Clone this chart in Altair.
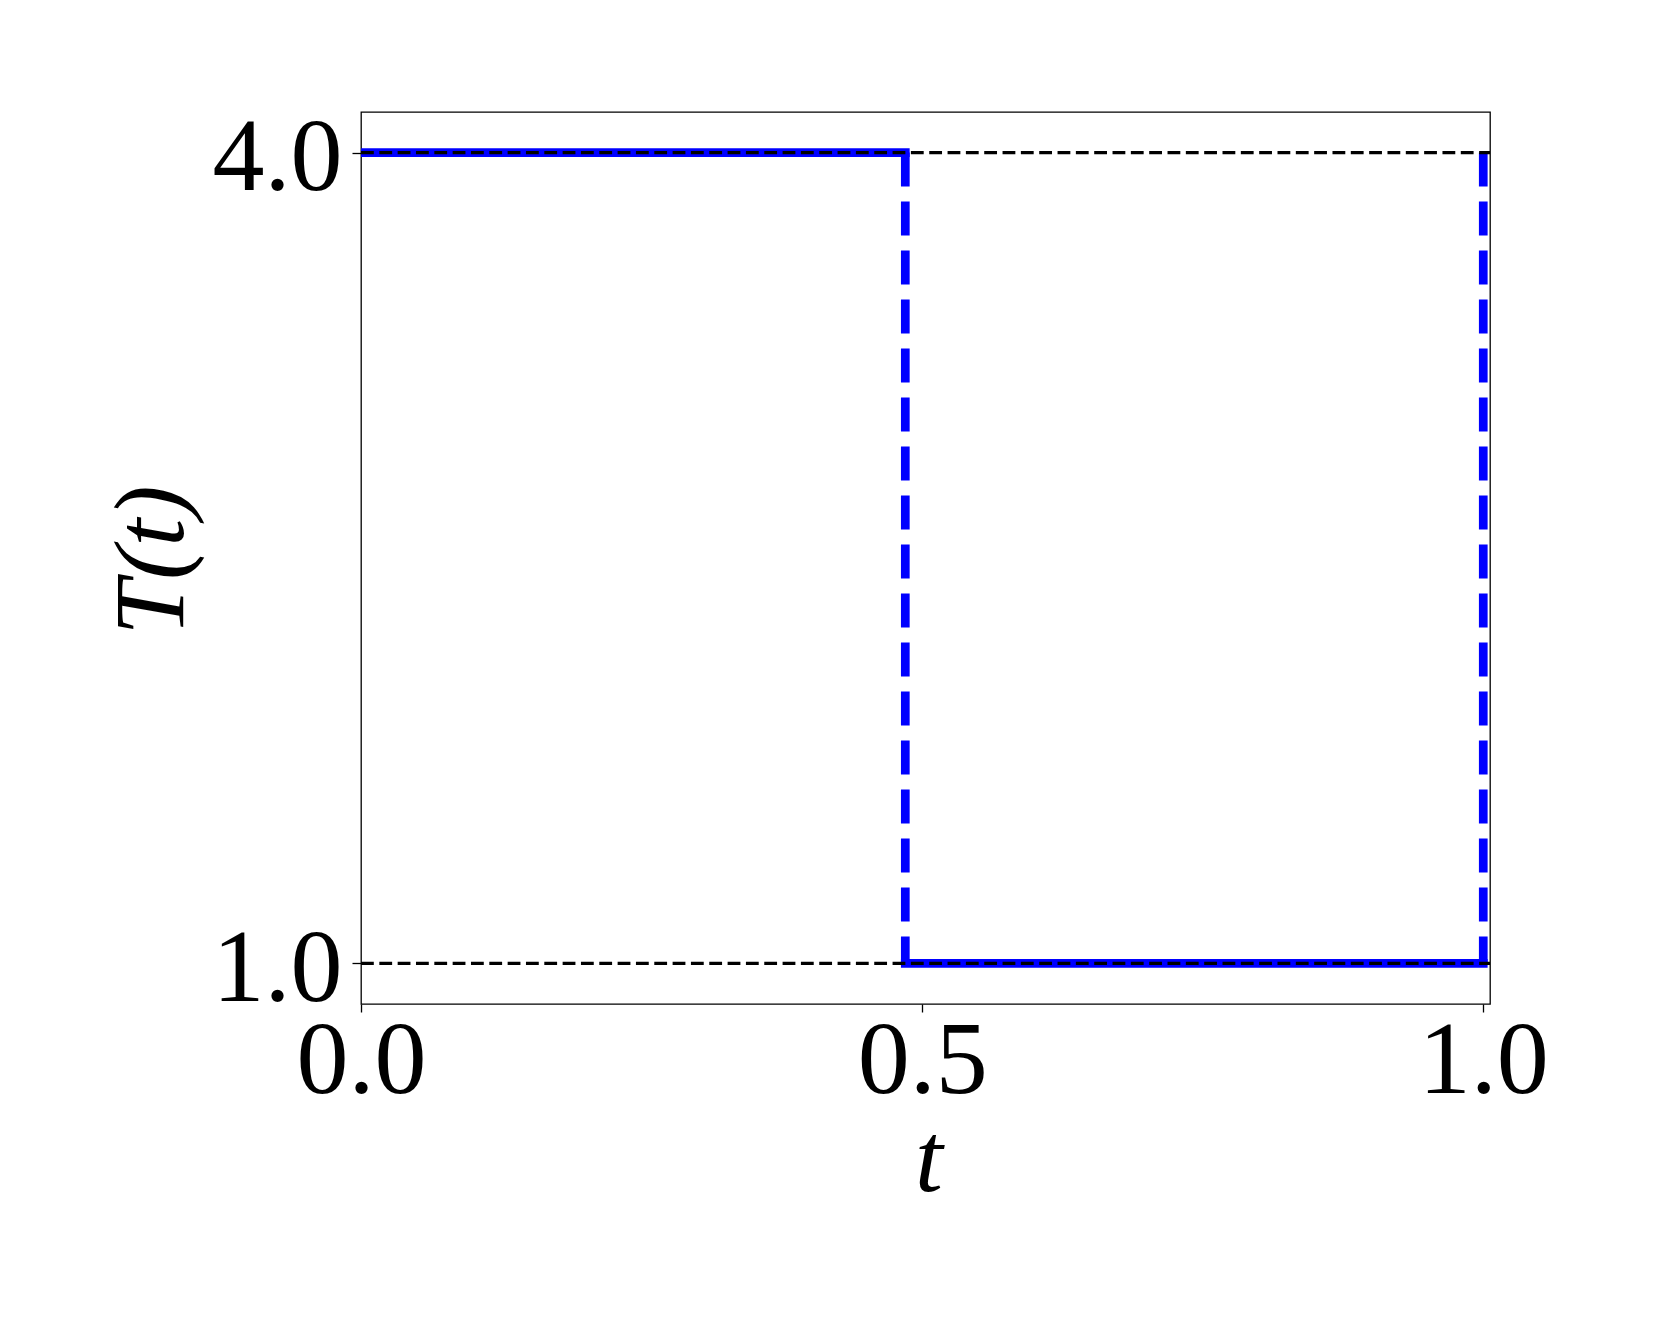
import altair as alt
import pandas as pd

# ---- data ----
seg_start = [0.0, 0.485]      # solid horizontal pieces of T(t)
seg_end = [0.485, 1.0]
seg_level = [4.0, 1.0]

jump_t = [0.485, 1.0]         # dashed vertical jumps
jump_top = [4.0, 4.0]
jump_bottom = [1.0, 1.0]

ref_levels = [4.0, 1.0]       # black dashed reference levels

x_ticks = [0.0, 0.5, 1.0]
y_ticks = [1.0, 4.0]

W, H = 1129, 892
FONT = "Liberation Serif"

segs = pd.DataFrame({"t0": seg_start, "t1": seg_end, "T": seg_level})
jumps = pd.DataFrame({"t": jump_t, "Ttop": jump_top, "Tbot": jump_bottom})
refs = pd.DataFrame({"T": ref_levels})

xscale = alt.Scale(domain=[0.0, 1.006], nice=False, zero=False)
yscale = alt.Scale(domain=[0.85, 4.15], nice=False, zero=False)

xaxis = alt.Axis(
    values=x_ticks, format=".1f", title="t", grid=False, domain=False,
    tickSize=8, tickWidth=1.3, tickColor="black",
    labelFont=FONT, labelFontSize=104, labelColor="black",
    labelBaseline="top", labelPadding=-2, labelFlush=False,
    titleFont=FONT, titleFontSize=100, titleFontStyle="italic",
    titleFontWeight="normal", titleColor="black",
    titleBaseline="top", titleY=107, titleX=W / 2 + 3,
)
yaxis = alt.Axis(
    values=y_ticks, format=".1f", title="T(t)", grid=False, domain=False,
    tickSize=9, tickWidth=1.3, tickColor="black",
    labelFont=FONT, labelFontSize=104, labelColor="black",
    labelBaseline="middle", labelOffset=6, labelPadding=10,
    labelFlush=False,
    titleFont=FONT, titleFontSize=100, titleFontStyle="italic",
    titleFontWeight="normal", titleColor="black",
    titleAngle=270, titleBaseline="alphabetic", titleAlign="center",
    titleX=-179, titleY=448,
)

solid = alt.Chart(segs).mark_rule(
    color="#0000ff", strokeWidth=8.7, strokeCap="square", clip=True
).encode(
    x=alt.X("t0:Q", scale=xscale, axis=xaxis),
    x2="t1:Q",
    y=alt.Y("T:Q", scale=yscale, axis=yaxis),
)

vert = alt.Chart(jumps).mark_rule(
    color="#0000ff", strokeWidth=8.7, strokeDash=[34, 15], strokeCap="butt"
).encode(
    x=alt.X("t:Q", scale=xscale),
    y=alt.Y("Ttop:Q", scale=yscale),
    y2="Tbot:Q",
)

ref = alt.Chart(refs).mark_rule(
    color="black", strokeWidth=3.3, strokeDash=[12.8, 5.53], strokeCap="butt"
).encode(
    x=alt.value(0),
    x2=alt.value(W),
    y=alt.Y("T:Q", scale=yscale),
)

chart = alt.layer(solid, vert, ref).properties(
    width=W, height=H,
    autosize=alt.AutoSizeParams(type="none"),
    padding={"left": 353, "top": 104, "right": 150, "bottom": 200},
    background="white",
).configure_view(
    stroke="black", strokeWidth=1.3
)

chart.save("out.html", embed_options={"renderer": "svg", "actions": False})
